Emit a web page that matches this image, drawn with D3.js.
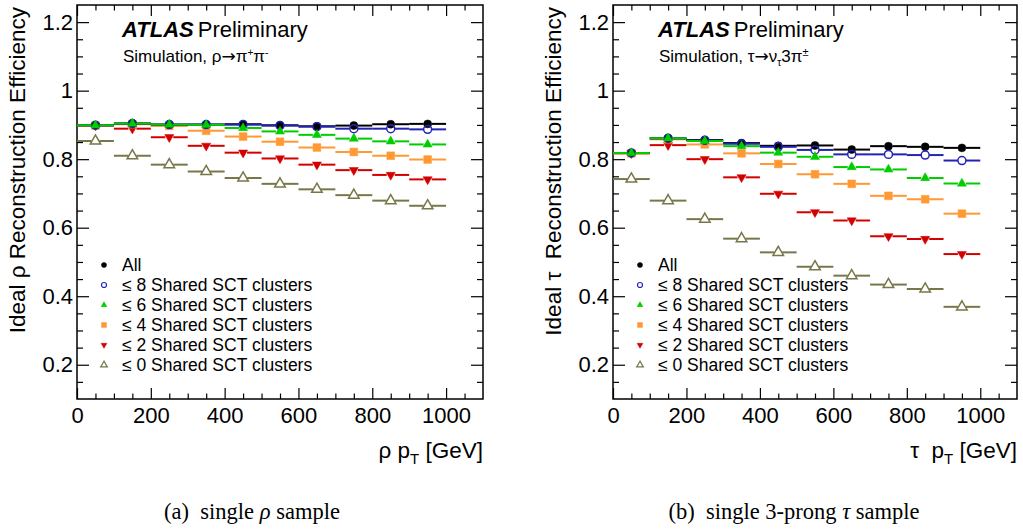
<!DOCTYPE html>
<html>
<head>
<meta charset="utf-8">
<script src="https://cdn.jsdelivr.net/npm/d3@7/dist/d3.min.js"></script>
<style>
body { margin: 0; background: #fff; }
text { font-family: "Liberation Sans", Arial, Helvetica, sans-serif; fill: #000; }
.caption { font-family: "Liberation Serif", "Times New Roman", serif; }
</style>
</head>
<body>
<div id="chart_wrapper"></div>
<script>
var binEdges = [0, 100, 200, 300, 400, 500, 600, 700, 800, 900, 1000];
var binCenters = [50, 150, 250, 350, 450, 550, 650, 750, 850, 950];

var seriesKeys = ["all", "sct8", "sct6", "sct4", "sct2", "sct0"];
var legendLabels = ["All", "\u2264 8 Shared SCT clusters", "\u2264 6 Shared SCT clusters",
    "\u2264 4 Shared SCT clusters", "\u2264 2 Shared SCT clusters", "\u2264 0 Shared SCT clusters"];

// single rho sample
var rhoAll  = [0.899, 0.904, 0.901, 0.901, 0.902, 0.899, 0.896, 0.898, 0.902, 0.903];
var rhoSct8 = [0.899, 0.904, 0.901, 0.901, 0.901, 0.898, 0.895, 0.889, 0.889, 0.887];
var rhoSct6 = [0.899, 0.904, 0.901, 0.900, 0.891, 0.881, 0.871, 0.860, 0.852, 0.843];
var rhoSct4 = [0.898, 0.902, 0.897, 0.883, 0.866, 0.851, 0.834, 0.821, 0.810, 0.799];
var rhoSct2 = [0.898, 0.889, 0.864, 0.839, 0.819, 0.802, 0.784, 0.768, 0.754, 0.741];
var rhoSct0 = [0.853, 0.810, 0.784, 0.764, 0.745, 0.728, 0.712, 0.695, 0.679, 0.664];

// single 3-prong tau sample
var tauAll  = [0.818, 0.861, 0.856, 0.847, 0.839, 0.840, 0.828, 0.838, 0.836, 0.833];
var tauSct8 = [0.818, 0.861, 0.855, 0.845, 0.836, 0.827, 0.814, 0.814, 0.812, 0.796];
var tauSct6 = [0.818, 0.861, 0.853, 0.838, 0.819, 0.807, 0.777, 0.770, 0.745, 0.729];
var tauSct4 = [0.817, 0.858, 0.843, 0.817, 0.786, 0.756, 0.728, 0.693, 0.683, 0.641];
var tauSct2 = [0.817, 0.841, 0.800, 0.747, 0.699, 0.645, 0.621, 0.575, 0.567, 0.523];
var tauSct0 = [0.742, 0.679, 0.625, 0.568, 0.528, 0.486, 0.460, 0.434, 0.421, 0.369];

var xTicks = [0, 200, 400, 600, 800, 1000];
var yTicks = [0.2, 0.4, 0.6, 0.8, 1, 1.2];
var xDomain = [0, 1100];
var yDomain = [0.1, 1.25];

// marker styles (ROOT-like)
var styles = {
    all:  {color: "#000000", shape: d3.symbolCircle,   size: 50, open: false, rot: 0},
    sct8: {color: "#2323b4", shape: d3.symbolCircle,   size: 50, open: true,  rot: 0},
    sct6: {color: "#00cc00", shape: d3.symbolTriangle, size: 36, open: false, rot: 0},
    sct4: {color: "#ff9933", shape: d3.symbolSquare,   size: 60, open: false, rot: 0},
    sct2: {color: "#d40000", shape: d3.symbolTriangle, size: 36, open: false, rot: 180},
    sct0: {color: "#77774a", shape: d3.symbolTriangle, size: 48, open: true,  rot: 0}
};
var drawOrder = ["sct0", "sct2", "sct4", "all", "sct8", "sct6"];

var svg = d3.select("#chart_wrapper").append("svg").attr("width", 1023).attr("height", 529);

var panels = [
    {left: 77, right: 483, data: {all: rhoAll, sct8: rhoSct8, sct6: rhoSct6, sct4: rhoSct4, sct2: rhoSct2, sct0: rhoSct0},
     yTitle: "Ideal \u03c1 Reconstruction Efficiency", xSym: "\u03c1 p", decay: "rho",
     caption: ["(a)  single ", "\u03c1", " sample"], capX: 252},
    {left: 613, right: 1017, data: {all: tauAll, sct8: tauSct8, sct6: tauSct6, sct4: tauSct4, sct2: tauSct2, sct0: tauSct0},
     yTitle: "Ideal \u03c4  Reconstruction Efficiency", xSym: "\u03c4  p", decay: "tau",
     caption: ["(b)  single 3-prong ", "\u03c4", " sample"], capX: 794}
];

var plotTop = 5, plotBottom = 399;

panels.forEach(function(p) {
    var x = d3.scaleLinear().domain(xDomain).range([p.left, p.right]);
    var y = d3.scaleLinear().domain(yDomain).range([plotBottom, plotTop]);
    var g = svg.append("g");

    // axes: major + minor ticks, pointing inward
    var minorX = d3.range(50, 1100, 50).filter(function(v) { return v % 200 != 0; });
    var minorY = d3.range(0.15, 1.25, 0.05).filter(function(v) { return Math.abs(v * 5 - Math.round(v * 5)) > 0.01; });

    g.append("g").attr("transform", "translate(0," + plotBottom + ")")
        .call(d3.axisBottom(x).tickValues(xTicks).tickSize(-11).tickPadding(8).tickFormat(d3.format("d")));
    g.append("g").attr("transform", "translate(0," + plotBottom + ")")
        .call(d3.axisBottom(x).tickValues(minorX).tickSize(-5.5).tickFormat(""));
    g.append("g").attr("transform", "translate(0," + plotTop + ")")
        .call(d3.axisTop(x).tickValues(xTicks).tickSize(-11).tickFormat(""));
    g.append("g").attr("transform", "translate(0," + plotTop + ")")
        .call(d3.axisTop(x).tickValues(minorX).tickSize(-5.5).tickFormat(""));
    g.append("g").attr("transform", "translate(" + p.left + ",0)")
        .call(d3.axisLeft(y).tickValues(yTicks).tickSize(-12).tickPadding(4).tickFormat(d3.format("~g")));
    g.append("g").attr("transform", "translate(" + p.left + ",0)")
        .call(d3.axisLeft(y).tickValues(minorY).tickSize(-6).tickFormat(""));
    g.append("g").attr("transform", "translate(" + p.right + ",0)")
        .call(d3.axisRight(y).tickValues(yTicks).tickSize(-12).tickFormat(""));
    g.append("g").attr("transform", "translate(" + p.right + ",0)")
        .call(d3.axisRight(y).tickValues(minorY).tickSize(-6).tickFormat(""));

    g.selectAll(".domain").remove();
    g.selectAll(".tick line").attr("stroke", "#000").attr("stroke-width", 1.2);
    g.selectAll(".tick text").style("font-size", "22px").style("font-family", "'Liberation Sans', Arial, sans-serif");

    g.append("rect").attr("x", p.left).attr("y", plotTop).attr("width", p.right - p.left).attr("height", plotBottom - plotTop)
        .attr("fill", "none").attr("stroke", "#000").attr("stroke-width", 1.5);

    // data: bin-width error bars + markers
    drawOrder.forEach(function(key) {
        var st = styles[key];
        var vals = p.data[key];
        var sg = g.append("g").attr("class", "series_" + key);
        var gap = 4;
        vals.forEach(function(v, i) {
            var cx = x(binCenters[i]), cy = y(v);
            sg.append("line").attr("x1", x(binEdges[i])).attr("x2", cx - gap).attr("y1", cy).attr("y2", cy)
                .attr("stroke", st.color).attr("stroke-width", 2);
            sg.append("line").attr("x1", cx + gap).attr("x2", x(binEdges[i + 1])).attr("y1", cy).attr("y2", cy)
                .attr("stroke", st.color).attr("stroke-width", 2);
        });
        sg.selectAll("path.marker").data(vals).enter().append("path").attr("class", "marker")
            .attr("d", d3.symbol().type(st.shape).size(st.size))
            .attr("transform", function(d, i) { return "translate(" + x(binCenters[i]) + "," + y(d) + ") rotate(" + st.rot + ")"; })
            .attr("fill", st.open ? "none" : st.color)
            .attr("stroke", st.color).attr("stroke-width", st.open ? 1.5 : 0.5);
    });

    // legend
    var lx = p.left + 27, ly = 265;
    seriesKeys.forEach(function(key, i) {
        var st = styles[key];
        var yy = ly + 20 * i;
        g.append("path").attr("d", d3.symbol().type(st.shape).size(st.size * 0.4))
            .attr("transform", "translate(" + lx + "," + yy + ") rotate(" + st.rot + ")")
            .attr("fill", st.open ? "none" : st.color).attr("stroke", st.color).attr("stroke-width", st.open ? 1.2 : 0.5);
        g.append("text").attr("x", lx + 18).attr("y", yy + 6).style("font-size", "17.5px").text(legendLabels[i]);
    });

    // ATLAS label
    var at = g.append("text").attr("x", p.left + 45).attr("y", 37).style("font-size", "22px");
    at.append("tspan").style("font-weight", "bold").style("font-style", "italic").text("ATLAS");
    at.append("tspan").attr("dx", 4).text("Preliminary");

    var sim = g.append("text").attr("x", p.left + 46).attr("y", 62).style("font-size", "17px");
    if (p.decay == "rho") {
        sim.append("tspan").text("Simulation, \u03c1");
        sim.append("tspan").style("font-family", "'DejaVu Sans'").text("\u2192");
        sim.append("tspan").text("\u03c0");
        sim.append("tspan").attr("dy", -6).style("font-size", "10px").text("+");
        sim.append("tspan").attr("dy", 6).text("\u03c0");
        sim.append("tspan").attr("dy", -6).style("font-size", "10px").text("-");
    } else {
        sim.append("tspan").text("Simulation, \u03c4");
        sim.append("tspan").style("font-family", "'DejaVu Sans'").text("\u2192");
        sim.append("tspan").text("\u03bd");
        sim.append("tspan").attr("dy", 4).style("font-size", "10px").text("\u03c4");
        sim.append("tspan").attr("dy", -4).text("3\u03c0");
        sim.append("tspan").attr("dy", -6).style("font-size", "11px").text("\u00b1");
    }

    // axis titles
    g.append("text").attr("transform", "translate(" + (p.left - 52) + "," + (plotTop + 2) + ") rotate(-90)")
        .attr("text-anchor", "end").style("font-size", "22.5px").style("white-space", "pre").text(p.yTitle);

    var xt = g.append("text").attr("x", p.right).attr("y", 458).attr("text-anchor", "end")
        .style("font-size", "22.5px").style("white-space", "pre");
    xt.append("tspan").text(p.xSym);
    xt.append("tspan").attr("dy", 6).style("font-size", "15px").text("T");
    xt.append("tspan").attr("dy", -6).text(" [GeV]");

    // caption
    var cap = g.append("text").attr("class", "caption").attr("x", p.capX).attr("y", 519)
        .attr("text-anchor", "middle").style("font-size", "22.5px").style("white-space", "pre");
    cap.append("tspan").text(p.caption[0]);
    cap.append("tspan").style("font-style", "italic").text(p.caption[1]);
    cap.append("tspan").text(p.caption[2]);
});
</script>
</body>
</html>
